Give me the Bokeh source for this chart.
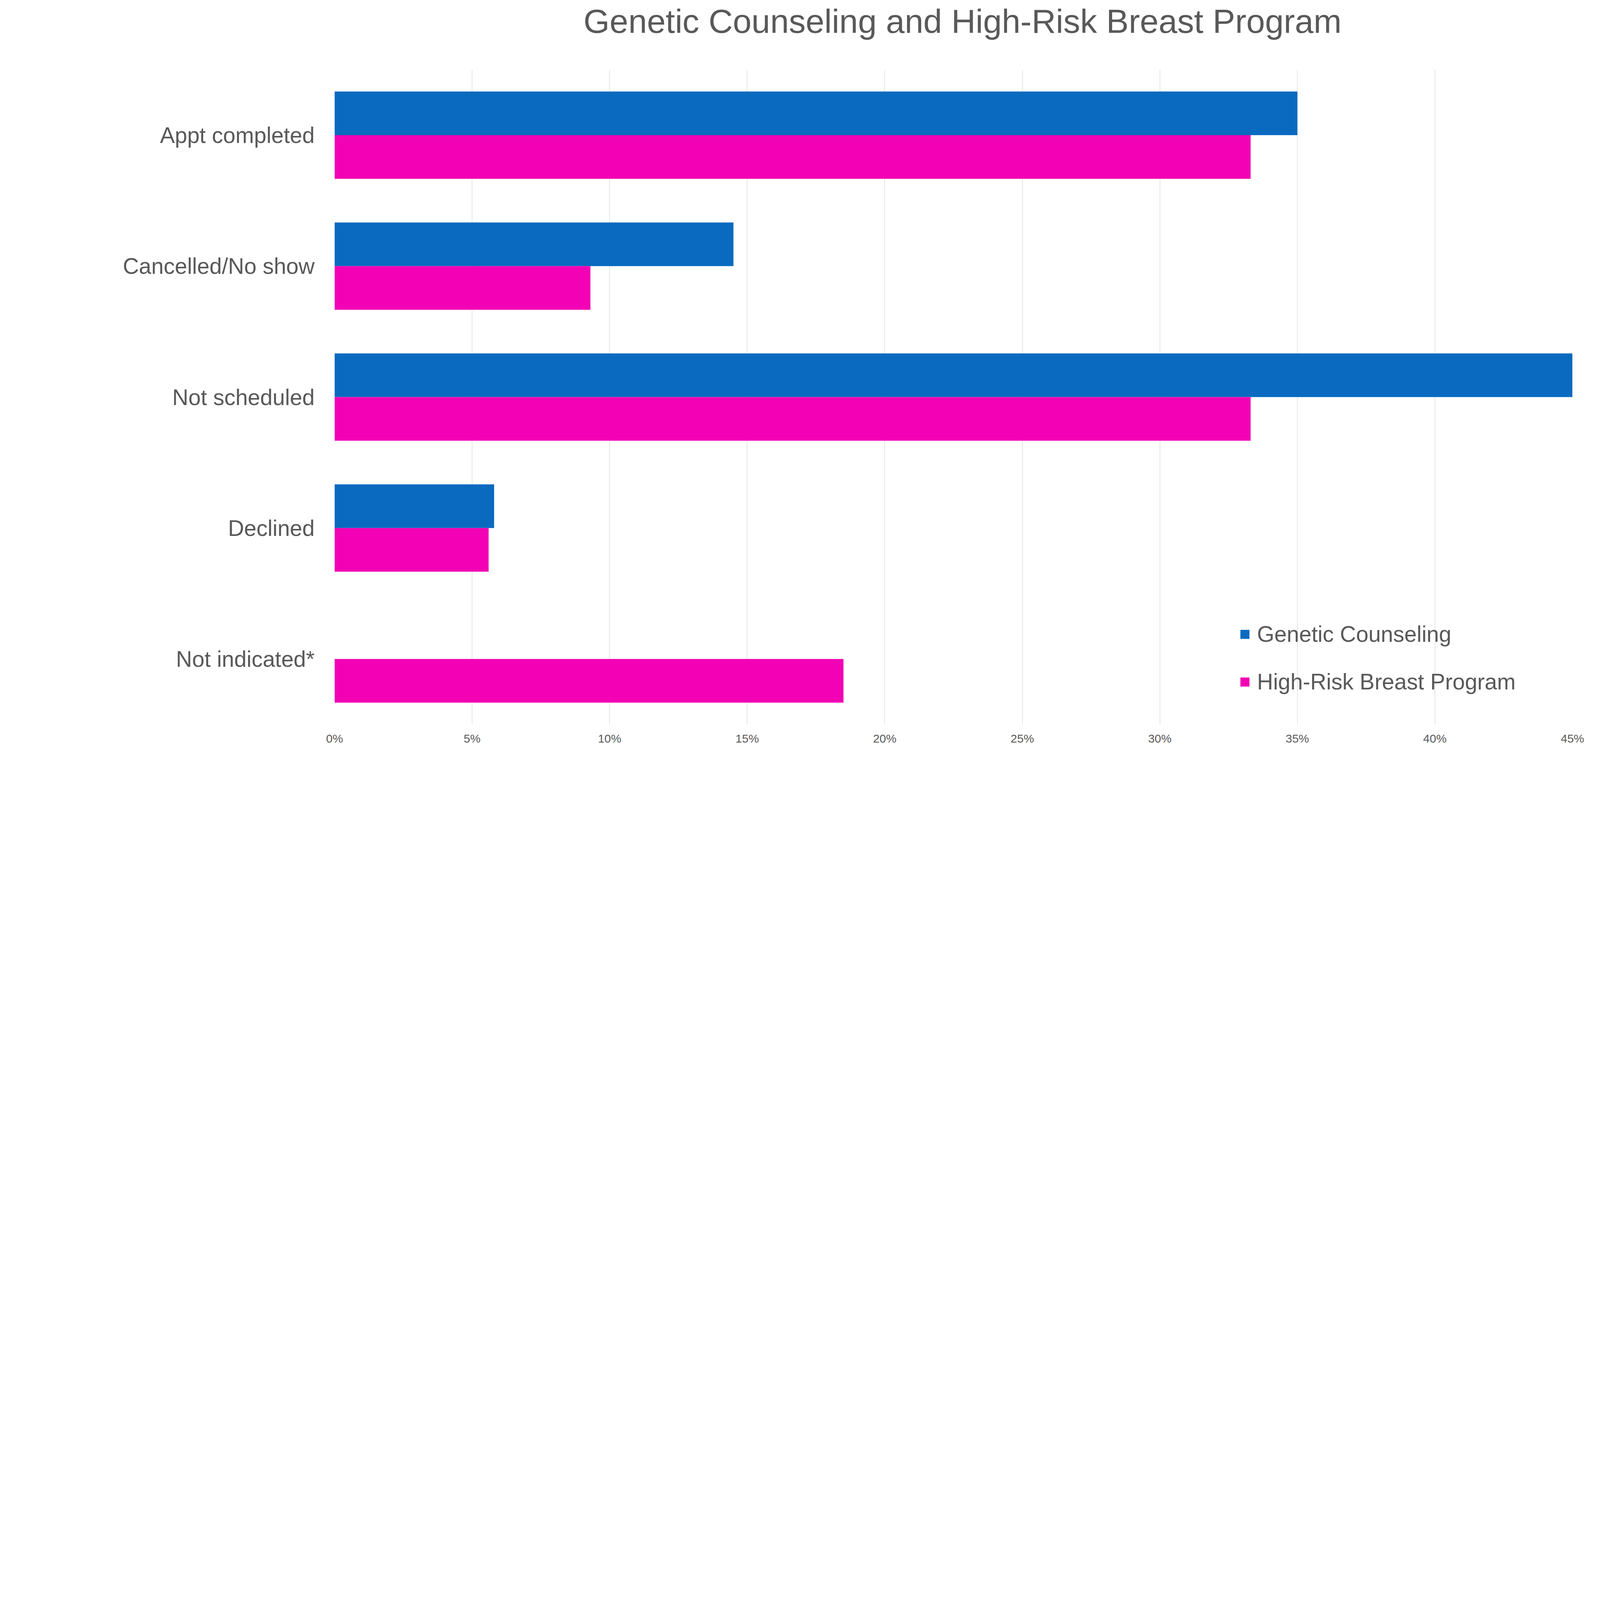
from bokeh.plotting import figure
from bokeh.models import ColumnDataSource, FixedTicker, Range1d, Legend, LegendItem, Div
from bokeh.layouts import column
from bokeh.transform import dodge
from bokeh.embed import file_html
from bokeh.resources import INLINE

categories = ["Appt completed", "Cancelled/No show", "Not scheduled", "Declined", "Not indicated*"]
genetic_counseling = [35.0, 14.5, 45.0, 5.8, 0.0]
high_risk_breast = [33.3, 9.3, 33.3, 5.6, 18.5]
tick_values = [0, 5, 10, 15, 20, 25, 30, 35, 40, 45]
tick_labels = ["0%", "5%", "10%", "15%", "20%", "25%", "30%", "35%", "40%", "45%"]
series_names = ["Genetic Counseling", "High-Risk Breast Program"]
colors = ["#0A6ABF", "#F202B4"]
title_text = "Genetic Counseling and High-Risk Breast Program"

FONT = "Liberation Sans"
TXT = "#595959"

W = 4095
H = 2137
TITLE_H = 104

title_div = Div(
    text=('<div style="margin-left:833px;width:3262px;text-align:center;white-space:nowrap;'
          'font-family:\'Liberation Sans\';font-size:86px;line-height:86px;'
          'padding-top:11px;color:%s;">%s</div>') % (TXT, title_text),
    width=W, height=TITLE_H, margin=0,
)

source = ColumnDataSource(dict(cat=categories, gc=genetic_counseling, hr=high_risk_breast))

p = figure(
    width=W, height=H - TITLE_H,
    y_range=list(reversed(categories)),
    x_range=Range1d(0, 45),
    output_backend="svg", toolbar_location=None,
    min_border_left=856, min_border_right=70, min_border_top=178 - TITLE_H, min_border_bottom=283,
    margin=0,
)

r1 = p.hbar(y=dodge("cat", 0.1667, range=p.y_range), left=0, right="gc", height=0.3333,
            source=source, fill_color=colors[0], line_color=None)
r2 = p.hbar(y=dodge("cat", -0.1667, range=p.y_range), left=0, right="hr", height=0.3333,
            source=source, fill_color=colors[1], line_color=None)

p.outline_line_color = None
p.ygrid.grid_line_color = None
p.xgrid.grid_line_color = "#DDDDDD"
p.xgrid.grid_line_width = 1.5

p.xaxis.ticker = FixedTicker(ticks=tick_values)
p.xaxis.major_label_overrides = {v: l for v, l in zip(tick_values, tick_labels)}
p.xaxis.axis_line_color = None
p.xaxis.major_tick_line_color = None
p.xaxis.minor_tick_line_color = None
p.xaxis.major_label_text_font = FONT
p.xaxis.major_label_text_font_size = "30px"
p.xaxis.major_label_text_color = TXT
p.xaxis.major_label_standoff = 13

p.yaxis.axis_line_color = None
p.yaxis.major_tick_line_color = None
p.yaxis.minor_tick_line_color = None
p.yaxis.major_label_text_font = FONT
p.yaxis.major_label_text_font_size = "57px"
p.yaxis.major_label_text_color = TXT
p.yaxis.major_label_standoff = 45

legend = Legend(
    items=[LegendItem(label=series_names[0], renderers=[r1]),
           LegendItem(label=series_names[1], renderers=[r2])],
    location=(2316, 76),
    glyph_width=29, glyph_height=29,
    label_text_font=FONT, label_text_font_size="57px", label_text_color=TXT,
    label_standoff=17, spacing=56, padding=0, margin=0,
    background_fill_alpha=0, border_line_color=None,
)
p.add_layout(legend, "center")

layout = column(title_div, p, spacing=0)

open("out.html", "w").write(file_html(layout, INLINE))
